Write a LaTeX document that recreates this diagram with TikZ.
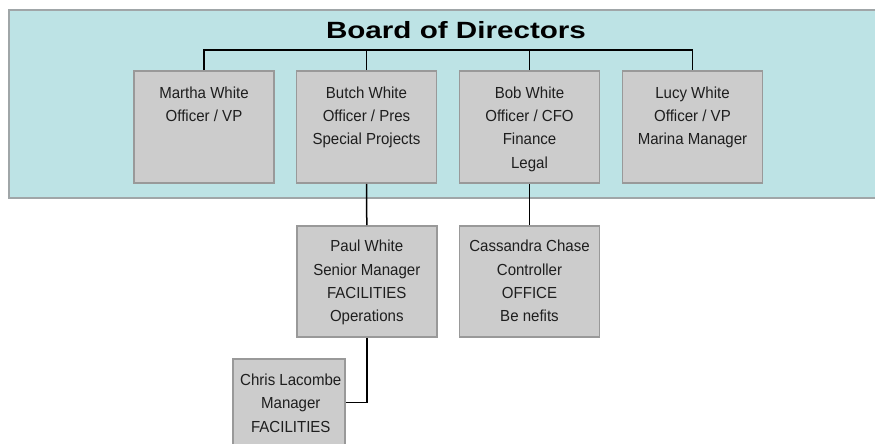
\documentclass[tikz,border=0pt]{standalone}
\usepackage{fontspec}
\setmainfont{Liberation Sans}
\newfontfamily\boxfont[FakeStretch=0.94]{Liberation Sans}
\usepackage{graphicx}
\definecolor{bg}{HTML}{BDE3E5}
\definecolor{bgline}{HTML}{A0A6A8}
\definecolor{boxfill}{HTML}{CCCCCC}
\definecolor{boxline}{HTML}{999999}
\definecolor{textcol}{HTML}{1E1E1E}
\begin{document}
\begin{tikzpicture}[x=1bp,y=-1bp,
  box/.style={draw=boxline, fill=boxfill, line width=1.6bp, minimum width=140bp, minimum height=112bp, inner sep=0pt},
  txt/.style={anchor=north, align=center, inner sep=0pt, font=\boxfont\fontsize{16bp}{23.3bp}\selectfont, text=textcol},
  conn/.style={draw=black, line width=1.5bp}]
\useasboundingbox (0,0) rectangle (875,444);
\clip (0,0) rectangle (875,444);
\node[draw=bgline, fill=bg, line width=1.6bp, minimum width=880bp, minimum height=188bp, inner sep=0pt, anchor=north west] (board) at (8,9) {};
\node[anchor=base, inner sep=0pt, font=\fontsize{23.5bp}{28bp}\selectfont\bfseries] (title) at (456,38.3) {\scalebox{1.26}[1]{Board of Directors}};
% top row
\node[box] (martha) at (204,127) {};
\node[box] (butch) at (366.5,127) {};
\node[box] (bob) at (529.5,127) {};
\node[box] (lucy) at (692.5,127) {};
\node[txt] (marthaT) at ([yshift=-16.3bp]martha.north) {Martha White\\Officer / VP};
\node[txt] (butchT) at ([yshift=-16.3bp]butch.north) {Butch White\\Officer / Pres\\Special Projects};
\node[txt] (bobT) at ([yshift=-16.3bp]bob.north) {Bob White\\Officer / CFO\\Finance\\Legal};
\node[txt] (lucyT) at ([yshift=-16.3bp]lucy.north) {Lucy White\\Officer / VP\\Marina Manager};
% second row
\node[box, minimum height=111bp] (paul) at (366.8,281.5) {};
\node[box, minimum height=111bp] (cass) at (529.5,281.5) {};
\node[txt] (paulT) at ([yshift=-15bp]paul.north) {Paul White\\Senior Manager\\FACILITIES\\Operations};
\node[txt] (cassT) at ([yshift=-15bp]cass.north) {Cassandra Chase\\Controller\\OFFICE\\Be nefits};
% third row
\node[box, minimum width=112bp, minimum height=87bp] (chris) at (288.8,402.5) {};
\node[txt] (chrisT) at ([xshift=2bp,yshift=-15.5bp]chris.north) {Chris Lacombe\\Manager\\FACILITIES};
% connectors
\coordinate (bus) at (0,50);
\draw[conn] (martha.north) -- (martha.north |- bus) -- (lucy.north |- bus) -- (lucy.north);
\draw[conn] (butch.north) -- (butch.north |- bus);
\draw[conn] (bob.north) -- (bob.north |- bus);
\draw[conn] (butch.south) -- (paul.north);
\draw[conn] (bob.south) -- (cass.north);
\draw[conn] (paul.south) |- (chris.east);
\end{tikzpicture}
\end{document}
